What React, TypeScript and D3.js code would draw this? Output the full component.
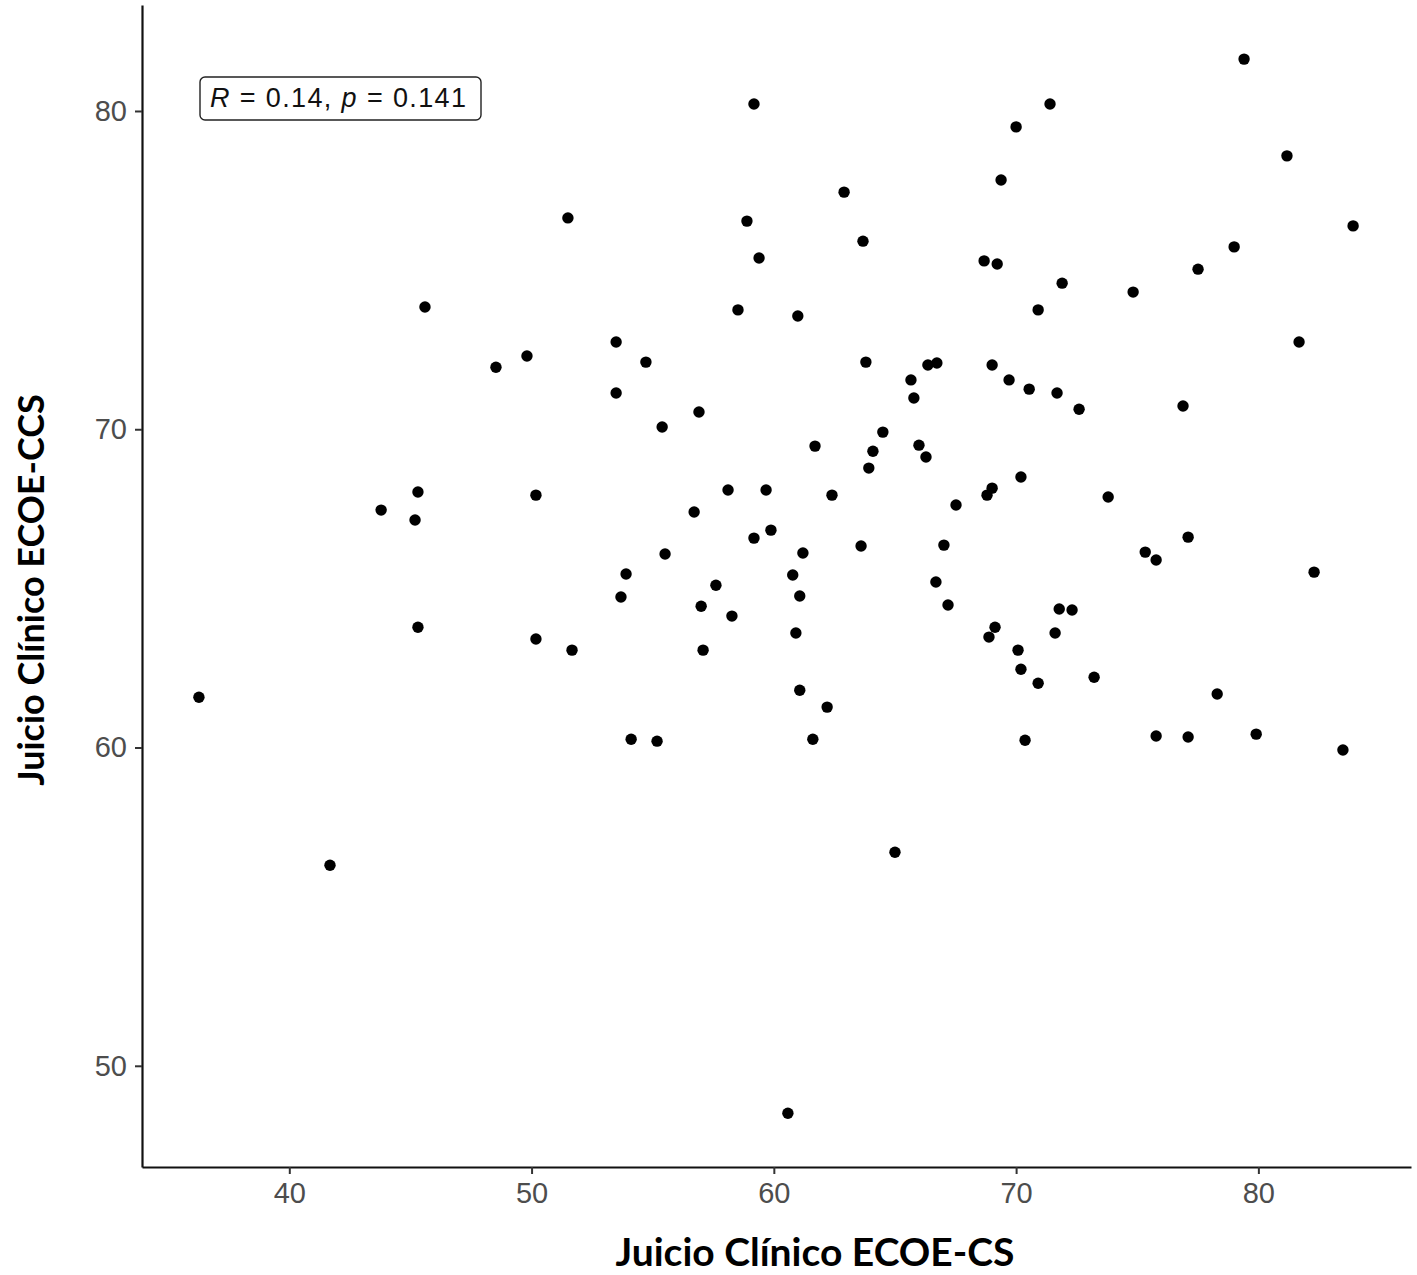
import React, { useEffect, useRef } from "react";
import * as d3 from "d3";

// Juicio Clínico ECOE-CS (x) vs ECOE-CCS (y), one value per student
const ecoeCs = [
  36.27, 41.68, 43.79, 45.19, 45.31, 45.31, 45.6, 48.53, 49.81, 50.18,
  50.18, 51.5, 51.67, 53.49, 53.49, 53.69, 53.9, 54.11, 54.72, 55.18,
  55.39, 55.51, 56.71, 56.91, 57.0, 57.08, 57.61, 58.11, 58.27, 58.52,
  58.89, 59.18, 59.18, 59.39, 59.68, 59.88, 60.58, 60.78, 60.91, 60.99,
  61.07, 61.07, 61.2, 61.61, 61.7, 62.2, 62.4, 62.9, 63.6, 63.68,
  63.8, 63.92, 64.09, 64.5, 65.0, 65.66, 65.78, 65.99, 66.28, 66.36,
  66.73, 66.69, 67.02, 67.19, 67.52, 68.68, 68.8, 68.88, 69.01, 69.01,
  69.13, 69.22, 69.38, 69.71, 70.0, 70.08, 70.2, 70.2, 70.37, 70.54,
  70.91, 70.91, 71.4, 71.61, 71.69, 71.78, 71.9, 72.31, 72.6, 73.22,
  73.8, 74.83, 75.33, 75.78, 75.78, 76.89, 77.1, 77.1, 77.51, 78.3,
  79.0, 79.41, 79.91, 81.18, 81.68, 82.3, 83.49, 83.91
];
const ecoeCcs = [
  61.58, 56.3, 67.46, 67.15, 68.03, 63.78, 73.84, 71.95, 72.3, 67.93,
  63.41, 76.64, 63.06, 72.74, 71.14, 64.73, 65.45, 60.26, 72.11, 60.2,
  70.07, 66.08, 67.4, 70.54, 64.44, 63.06, 65.1, 68.09, 64.13, 73.75,
  76.54, 80.22, 66.58, 75.38, 68.09, 66.83, 48.51, 65.42, 63.6, 73.56,
  64.76, 61.8, 66.11, 60.26, 69.47, 61.27, 67.93, 77.45, 66.33, 75.91,
  72.11, 68.78, 69.31, 69.91, 56.71, 71.55, 70.98, 69.5, 69.13, 72.02,
  72.08, 65.2, 66.36, 64.48, 67.62, 75.29, 67.93, 63.47, 72.02, 68.15,
  63.78, 75.19, 77.83, 71.55, 79.5, 63.06, 68.5, 62.46, 60.23, 71.26,
  62.02, 73.75, 80.22, 63.6, 71.14, 64.35, 74.59, 64.32, 70.63, 62.21,
  67.87, 74.31, 66.14, 65.89, 60.36, 70.73, 66.61, 60.33, 75.03, 61.68,
  75.73, 81.63, 60.42, 78.59, 72.74, 65.51, 59.92, 76.39
];

const xTicks = [40, 50, 60, 70, 80];
const yTicks = [50, 60, 70, 80];
const xTitle = "Juicio Clínico ECOE-CS";
const yTitle = "Juicio Clínico ECOE-CCS";
const corrR = "0.14";
const corrP = "0.141";

function App() {
  const chart = useRef<SVGSVGElement>(null);

  useEffect(() => {
    const width = 1417;
    const height = 1275;
    const margin = { top: 5, right: 6, bottom: 108, left: 142 };

    const svg = d3.select(chart.current)
      .attr("width", width)
      .attr("height", height);

    const x = d3.scaleLinear()
      .domain([33.92, 86.3])
      .range([margin.left, width - margin.right]);
    const y = d3.scaleLinear()
      .domain([46.82, 83.33])
      .range([height - margin.bottom, margin.top]);

    const tickFont = "'Liberation Sans', Arial, sans-serif";
    const titleFont = "Lato, 'Open Sans', sans-serif";

    // x axis
    const xAxis = svg.append("g")
      .attr("transform", "translate(0," + y.range()[0] + ")")
      .call(d3.axisBottom(x).tickValues(xTicks).tickSize(7).tickPadding(8).tickSizeOuter(0));
    xAxis.select(".domain").attr("stroke", "#111").attr("stroke-width", 2.2);
    xAxis.selectAll(".tick line").attr("stroke", "#333").attr("stroke-width", 2);
    xAxis.selectAll(".tick text")
      .attr("font-family", tickFont)
      .attr("font-size", 29)
      .attr("fill", "#4d4d4d");

    // y axis
    const yAxis = svg.append("g")
      .attr("transform", "translate(" + x.range()[0] + ",0)")
      .call(d3.axisLeft(y).tickValues(yTicks).tickSize(7).tickPadding(8).tickSizeOuter(0));
    yAxis.select(".domain").attr("stroke", "#111").attr("stroke-width", 2.2);
    yAxis.selectAll(".tick line").attr("stroke", "#333").attr("stroke-width", 2);
    yAxis.selectAll(".tick text")
      .attr("font-family", tickFont)
      .attr("font-size", 29)
      .attr("fill", "#4d4d4d");

    // points
    svg.append("g")
      .selectAll("circle")
      .data(ecoeCs.map((d, i) => [d, ecoeCcs[i]]))
      .enter()
      .append("circle")
      .attr("cx", d => x(d[0]))
      .attr("cy", d => y(d[1]))
      .attr("r", 5.7)
      .attr("fill", "#000");

    // correlation label
    const label = svg.append("g");
    label.append("rect")
      .attr("x", 200)
      .attr("y", 77)
      .attr("width", 281)
      .attr("height", 43)
      .attr("rx", 5)
      .attr("fill", "#fff")
      .attr("stroke", "#222")
      .attr("stroke-width", 1.4);
    const t = label.append("text")
      .attr("x", 210)
      .attr("y", 107)
      .attr("font-family", tickFont)
      .attr("font-size", 27)
      .attr("fill", "#111")
      .attr("textLength", 256)
      .attr("lengthAdjust", "spacing");
    t.append("tspan").attr("font-style", "italic").text("R");
    t.append("tspan").text(" = " + corrR + ", ");
    t.append("tspan").attr("font-style", "italic").text("p");
    t.append("tspan").text(" = " + corrP);

    // axis titles
    svg.append("text")
      .attr("x", 815)
      .attr("y", 1266)
      .attr("text-anchor", "middle")
      .attr("font-family", titleFont)
      .attr("font-weight", "bold")
      .attr("font-size", 39)
      .attr("fill", "#000")
      .text(xTitle);

    svg.append("text")
      .attr("transform", "translate(44,590) rotate(-90)")
      .attr("text-anchor", "middle")
      .attr("font-family", titleFont)
      .attr("font-weight", "bold")
      .attr("font-size", 36)
      .attr("fill", "#000")
      .text(yTitle);

    return () => {
      svg.selectAll("*").remove();
    };
  }, []);

  return (
    <div style={{ position: "absolute", left: 0, top: 0, background: "#fff" }}>
      <svg ref={chart}></svg>
    </div>
  );
}

export default App;
